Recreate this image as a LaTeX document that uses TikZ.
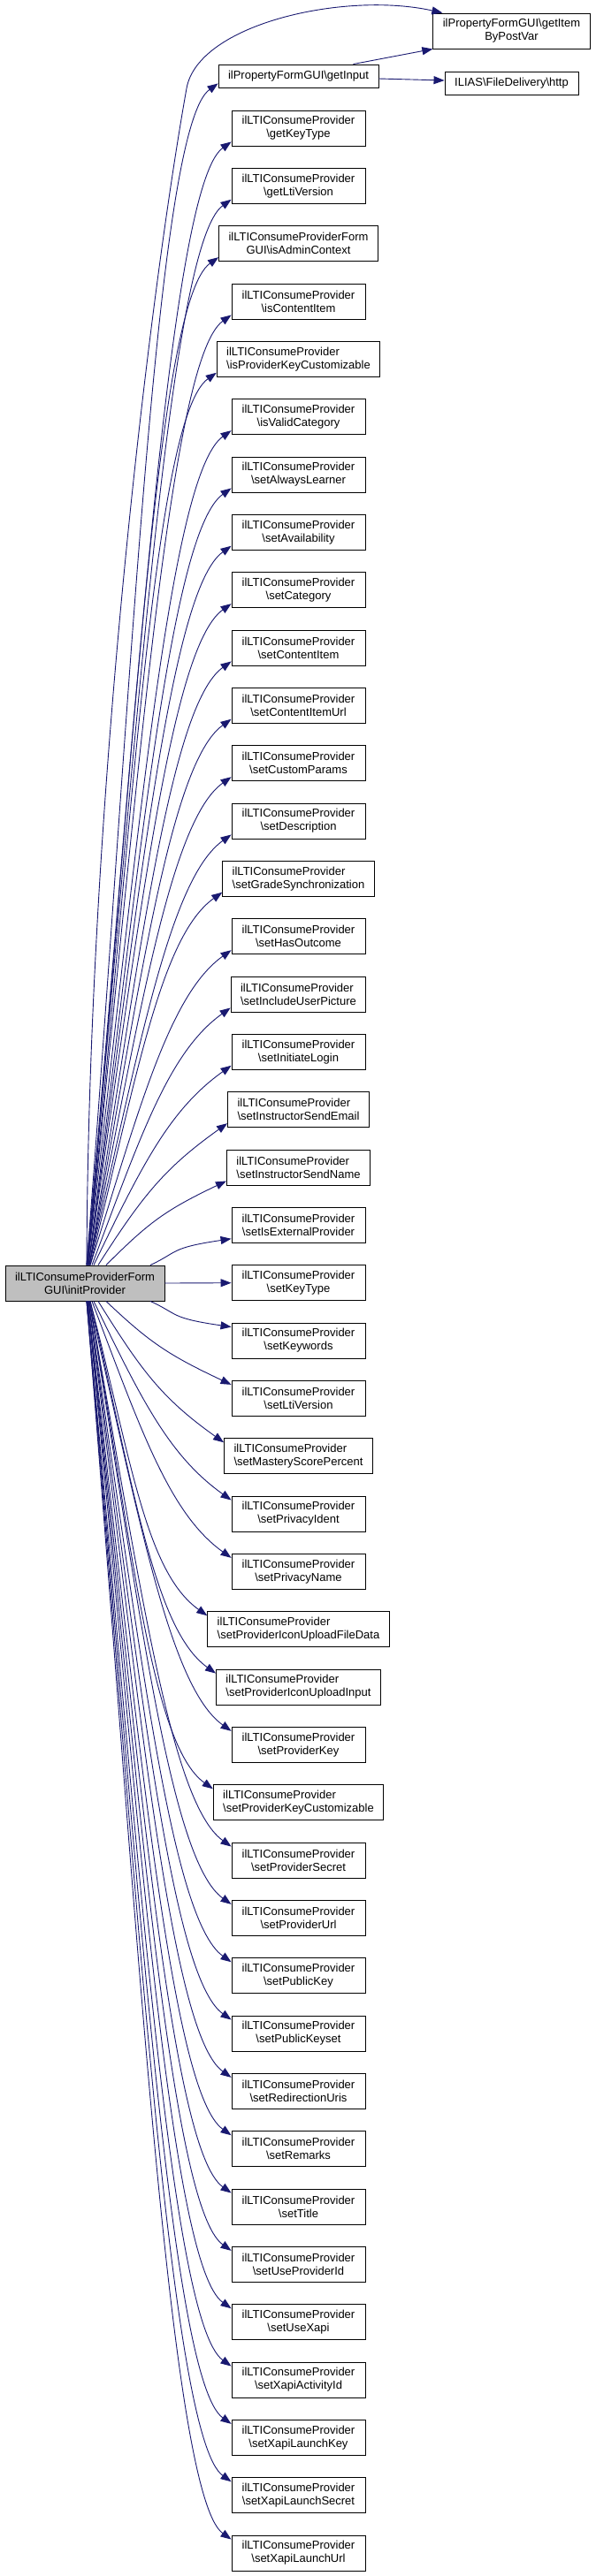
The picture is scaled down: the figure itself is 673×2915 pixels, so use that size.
\documentclass[tikz,border=0pt]{standalone}
\usepackage{fontspec}
\newfontfamily\doxfont{Liberation Sans}
\usetikzlibrary{calc,arrows.meta}
\definecolor{edgeblue}{HTML}{191970}
\def\lti#1{ilLTIConsumeProvider\\\textbackslash #1}
\def\callup(#1)(#2){\draw[call] let \p1=($(main.north)+(#2,0)$), \p2=($(#1.south west)+(0,5)$) in (\p1) .. controls ({\x1+0.35*(\x2-\x1)},{\y1+0.5*(\y2-\y1)}) and ({\x2-70},{\y2-min(50,0.35*(\y2-\y1))}) .. (\p2);}
\def\calldown(#1)(#2){\draw[call] let \p1=($(main.south)+(#2,0)$), \p2=($(#1.north west)+(0,-5)$) in (\p1) .. controls ({\x1+0.35*(\x2-\x1)},{\y1+0.5*(\y2-\y1)}) and ({\x2-70},{\y2+min(50,0.35*(\y1-\y2))}) .. (\p2);}
\tikzset{
	fn/.style={draw=black, line width=0.9pt, inner xsep=11pt, inner ysep=2pt, minimum width=151pt, minimum height=40pt, align=center, font=\doxfont\fontsize{13}{15}\selectfont},
	fnleft/.style={fn, align=left},
	fnone/.style={fn, minimum height=26pt},
	call/.style={draw=edgeblue, line width=0.9pt, -{Triangle[length=12pt,width=9pt]}}
}
\begin{document}
\begin{tikzpicture}[x=1pt,y=1pt]
			%%%%% START %%%%%
			\useasboundingbox (0,0) rectangle (673,-2915);
			
			\node[fn, fill=black!25] (main) at (96,-1452) {ilLTIConsumeProviderForm\\GUI\textbackslash initProvider};
			
			\node[fn] (item) at (578.5,-35) {ilPropertyFormGUI\textbackslash getItem\\ByPostVar};
			\node[fnone] (getinput) at (337.5,-86) {ilPropertyFormGUI\textbackslash getInput};
			\node[fnone] (http) at (578.5,-94) {ILIAS\textbackslash FileDelivery\textbackslash http};
			
			\node[fn] (getkeytype) at (337.5,-145) {\lti{getKeyType}};
			\node[fn] (getltiversion) at (337.5,-210.3) {\lti{getLtiVersion}};
			\node[fn] (isadmincontext) at (337.5,-275.7) {ilLTIConsumeProviderForm\\GUI\textbackslash isAdminContext};
			\node[fn] (iscontentitem) at (337.5,-341) {\lti{isContentItem}};
			\node[fnleft] (isproviderkeycust) at (337.5,-406.3) {\lti{isProviderKeyCustomizable}};
			\node[fn] (isvalidcategory) at (337.5,-471.7) {\lti{isValidCategory}};
			\node[fn] (setalwayslearner) at (337.5,-537) {\lti{setAlwaysLearner}};
			\node[fn] (setavailability) at (337.5,-602.3) {\lti{setAvailability}};
			\node[fn] (setcategory) at (337.5,-667.7) {\lti{setCategory}};
			\node[fn] (setcontentitem) at (337.5,-733) {\lti{setContentItem}};
			\node[fn] (setcontentitemurl) at (337.5,-798.3) {\lti{setContentItemUrl}};
			\node[fn] (setcustomparams) at (337.5,-863.7) {\lti{setCustomParams}};
			\node[fn] (setdescription) at (337.5,-929) {\lti{setDescription}};
			\node[fnleft] (setgradesync) at (337.5,-994.3) {\lti{setGradeSynchronization}};
			\node[fn] (sethasoutcome) at (337.5,-1059.7) {\lti{setHasOutcome}};
			\node[fnleft] (setincludeuserpicture) at (337.5,-1125) {\lti{setIncludeUserPicture}};
			\node[fn] (setinitiatelogin) at (337.5,-1190.3) {\lti{setInitiateLogin}};
			\node[fnleft] (setinstructorsendemail) at (337.5,-1255.7) {\lti{setInstructorSendEmail}};
			\node[fnleft] (setinstructorsendname) at (337.5,-1321) {\lti{setInstructorSendName}};
			\node[fn] (setisexternalprovider) at (337.5,-1386.3) {\lti{setIsExternalProvider}};
			\node[fn] (setkeytype) at (337.5,-1451.7) {\lti{setKeyType}};
			\node[fn] (setkeywords) at (337.5,-1517) {\lti{setKeywords}};
			\node[fn] (setltiversion) at (337.5,-1582.3) {\lti{setLtiVersion}};
			\node[fnleft] (setmasteryscorepercent) at (337.5,-1647.7) {\lti{setMasteryScorePercent}};
			\node[fn] (setprivacyident) at (337.5,-1713) {\lti{setPrivacyIdent}};
			\node[fn] (setprivacyname) at (337.5,-1778.3) {\lti{setPrivacyName}};
			\node[fnleft] (seticonfiledata) at (337.5,-1843.7) {\lti{setProviderIconUploadFileData}};
			\node[fnleft] (seticoninput) at (337.5,-1909) {\lti{setProviderIconUploadInput}};
			\node[fn] (setproviderkey) at (337.5,-1974.3) {\lti{setProviderKey}};
			\node[fnleft] (setproviderkeycust) at (337.5,-2039.7) {\lti{setProviderKeyCustomizable}};
			\node[fn] (setprovidersecret) at (337.5,-2105) {\lti{setProviderSecret}};
			\node[fn] (setproviderurl) at (337.5,-2170.3) {\lti{setProviderUrl}};
			\node[fn] (setpublickey) at (337.5,-2235.7) {\lti{setPublicKey}};
			\node[fn] (setpublickeyset) at (337.5,-2301) {\lti{setPublicKeyset}};
			\node[fn] (setredirectionuris) at (337.5,-2366.3) {\lti{setRedirectionUris}};
			\node[fn] (setremarks) at (337.5,-2431.7) {\lti{setRemarks}};
			\node[fn] (settitle) at (337.5,-2497) {\lti{setTitle}};
			\node[fn] (setuseproviderid) at (337.5,-2562.3) {\lti{setUseProviderId}};
			\node[fn] (setusexapi) at (337.5,-2627.7) {\lti{setUseXapi}};
			\node[fn] (setxapiactivityid) at (337.5,-2693) {\lti{setXapiActivityId}};
			\node[fn] (setxapilaunchkey) at (337.5,-2758.3) {\lti{setXapiLaunchKey}};
			\node[fn] (setxapilaunchsecret) at (337.5,-2823.7) {\lti{setXapiLaunchSecret}};
			\node[fn] (setxapilaunchurl) at (337.5,-2889) {\lti{setXapiLaunchUrl}};
			
			% calls over the top
			\draw[call] ($(main.north)+(2,0)$) .. controls (100,-900) and (170,-330) .. (211,-100) .. controls (224,-27) and (390,10) .. ($(item.north west)+(11,0)$);
			\draw[call] ($(getinput.north)+(62,0)$) -- (item.south west);
			\draw[call] ($(getinput.east)+(0,-3)$) -- ($(http.west)+(0,3)$);
			\callup(getinput)(2)
			
			% calls above
			\callup(getkeytype)(2)
			\callup(getltiversion)(2)
			\callup(isadmincontext)(3)
			\callup(iscontentitem)(3)
			\callup(isproviderkeycust)(3)
			\callup(isvalidcategory)(3)
			\callup(setalwayslearner)(4)
			\callup(setavailability)(4)
			\callup(setcategory)(4)
			\callup(setcontentitem)(5)
			\callup(setcontentitemurl)(5)
			\callup(setcustomparams)(5)
			\callup(setdescription)(5)
			\callup(setgradesync)(6)
			\callup(sethasoutcome)(6)
			\callup(setincludeuserpicture)(8)
			\callup(setinitiatelogin)(10)
			\callup(setinstructorsendemail)(15)
			\callup(setinstructorsendname)(24)
			\callup(setisexternalprovider)(74)
			
			\draw[call] (main.east) -- (setkeytype.west);
			
			% calls below
			\calldown(setkeywords)(74)
			\calldown(setltiversion)(24)
			\calldown(setmasteryscorepercent)(15)
			\calldown(setprivacyident)(10)
			\calldown(setprivacyname)(8)
			\calldown(seticonfiledata)(6)
			\calldown(seticoninput)(6)
			\calldown(setproviderkey)(5)
			\calldown(setproviderkeycust)(5)
			\calldown(setprovidersecret)(5)
			\calldown(setproviderurl)(5)
			\calldown(setpublickey)(4)
			\calldown(setpublickeyset)(4)
			\calldown(setredirectionuris)(4)
			\calldown(setremarks)(3)
			\calldown(settitle)(3)
			\calldown(setuseproviderid)(3)
			\calldown(setusexapi)(3)
			\calldown(setxapiactivityid)(2)
			\calldown(setxapilaunchkey)(2)
			\calldown(setxapilaunchsecret)(2)
			\calldown(setxapilaunchurl)(2)
			
			%%%%% END %%%%%
\end{tikzpicture}
\end{document}
